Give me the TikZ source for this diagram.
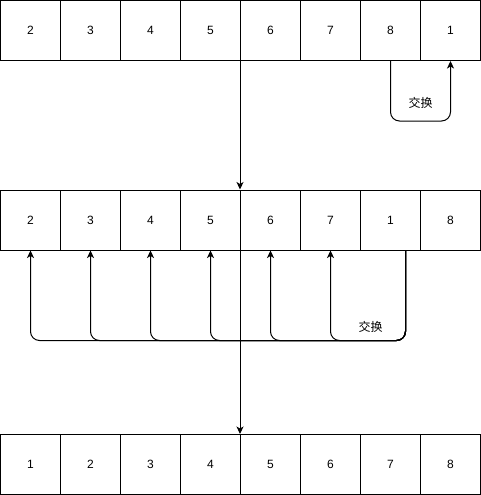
\documentclass[tikz,border=0pt]{standalone}
\usepackage{fontspec}
\setmainfont{Liberation Sans}
\newfontfamily\cjk{Noto Sans CJK SC}
\usepackage{tikz}
\usetikzlibrary{arrows.meta,calc}
\tikzset{
	cell/.style={draw,line width=1pt,minimum width=60pt,minimum height=60pt,inner sep=0pt,font=\fontsize{12}{14}\selectfont},
	conn/.style={line width=1pt,rounded corners=9pt,-{Stealth[length=7.5pt,width=7pt,inset=2pt]}},
	swaplabel/.style={font=\cjk\fontsize{12}{14}\selectfont,inner sep=1pt}
}

\begin{document}
\begin{tikzpicture}[x=1pt,y=-1pt]
			\useasboundingbox (0,0) rectangle (481,495);
			\foreach \n [count=\i] in {2,3,4,5,6,7,8,1}
				\node[cell] (a\i) at (60*\i-29.5,30.5) {\n};
			\foreach \n [count=\i] in {2,3,4,5,6,7,1,8}
				\node[cell] (b\i) at (60*\i-29.5,220) {\n};
			\foreach \n [count=\i] in {1,2,3,4,5,6,7,8}
				\node[cell] (c\i) at (60*\i-29.5,464.5) {\n};
			\draw[conn] (a7.south) -- ++(0,60) -| (a8.south);
			\node[swaplabel] (swapa) at (420.5,103) {交换};
			\draw[conn] (a5.south west) -- (b5.north west);
			\foreach \i in {1,...,6}
				\draw[conn] ($(b7.south)+(15,0)$) -- ++(0,90) -| (b\i.south);
			\node[swaplabel] (swapb) at (370.5,327) {交换};
			\draw[conn] (b5.south west) -- (c5.north west);
		\end{tikzpicture}
\end{document}
